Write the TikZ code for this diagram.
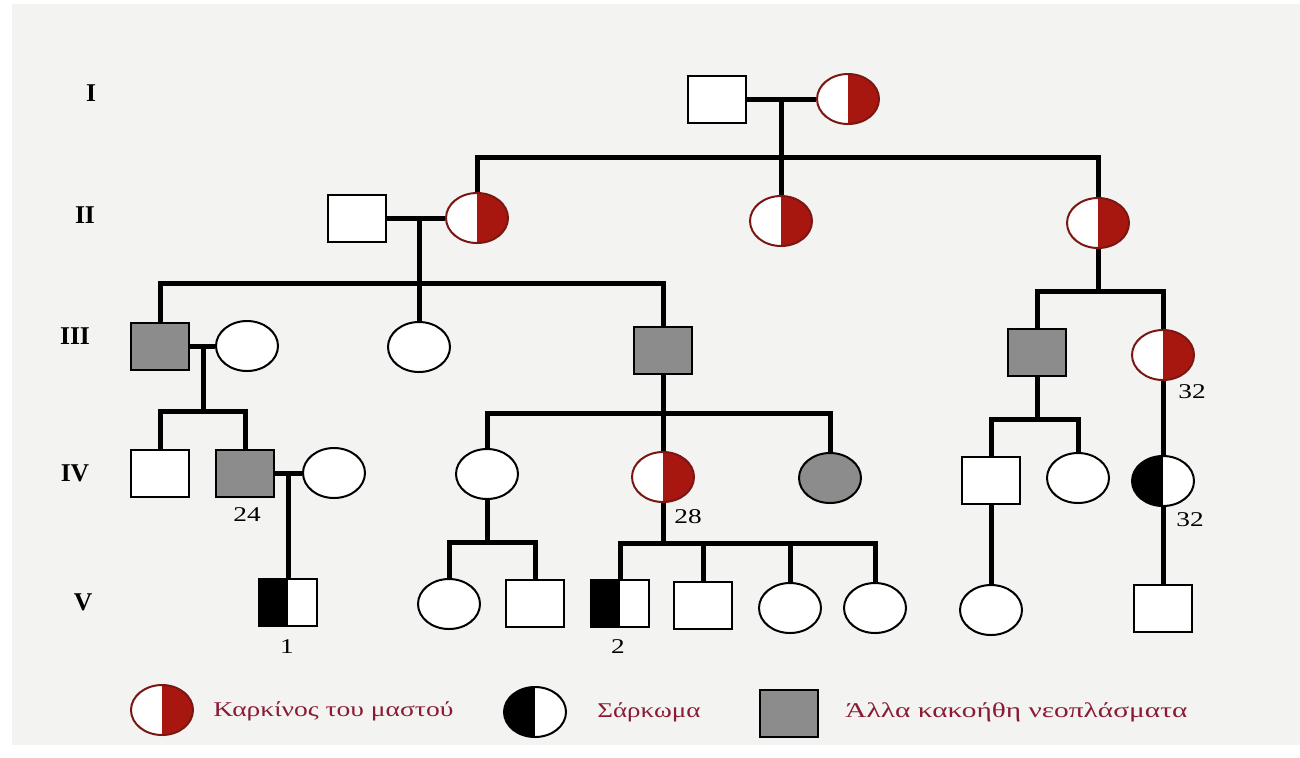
\documentclass[tikz,border=0pt]{standalone}
\usepackage{fontspec}
\setmainfont{Liberation Serif}
\usepackage{graphicx}
\usetikzlibrary{shapes.geometric}
\definecolor{bcred}{HTML}{A8170F}
\definecolor{bcline}{HTML}{7A1712}
\definecolor{grayfill}{HTML}{8C8C8C}
\definecolor{legtext}{HTML}{8A1B33}
\definecolor{paper}{HTML}{F3F3F1}
\begin{document}
\begin{tikzpicture}[x=0.5pt,y=-0.5pt,
  sq/.style={rectangle, draw=black, line width=1pt, fill=white, minimum width=29pt, minimum height=23.5pt, inner sep=0pt},
  ci/.style={ellipse, draw=black, line width=1pt, fill=white, minimum width=31pt, minimum height=25pt, inner sep=0pt},
  bc/.style={draw=bcline, path picture={\fill[bcred] (path picture bounding box.north) rectangle (path picture bounding box.south east);}},
  sarc/.style={path picture={\fill[black] (path picture bounding box.south west) rectangle (path picture bounding box.north);}},
  oth/.style={fill=grayfill},
  link/.style={line width=2.5pt},
  gen/.style={font=\fontsize{12.8}{14}\selectfont\bfseries, inner sep=0pt},
  num/.style={font=\fontsize{10.5}{12}\selectfont, inner sep=0pt},
  leg/.style={font=\fontsize{10.5}{12}\selectfont, text=legtext, inner sep=0pt, anchor=west}
]
\useasboundingbox (0,0) rectangle (1300,757);
\fill[white] (0,0) rectangle (1300,757);
\fill[paper] (12,4) rectangle (1300,745);

% generation labels
\node[gen] (gI) at (91,93) {I};
\node[gen] (gII) at (85,215) {II};
\node[gen] (gIII) at (75,336) {III};
\node[gen] (gIV) at (75,473) {IV};
\node[gen] (gV) at (83,602) {V};

% generation I
\node[sq] (I1) at (717,99) {};
\node[ci,bc] (I2) at (848,99) {};

% generation II
\node[sq] (II1) at (357,218) {};
\node[ci,bc] (II2) at (477,218) {};
\node[ci,bc] (II3) at (781,221) {};
\node[ci,bc] (II4) at (1098,223) {};

% generation III
\node[sq,oth] (III1) at (160,346) {};
\node[ci] (III2) at (247,346) {};
\node[ci] (III3) at (419,347) {};
\node[sq,oth] (III4) at (663,350) {};
\node[sq,oth] (III5) at (1037,352) {};
\node[ci,bc] (III6) at (1163,355) {};

% generation IV
\node[sq] (IV1) at (160,473) {};
\node[sq,oth] (IV2) at (245,473) {};
\node[ci] (IV3) at (334,473) {};
\node[ci] (IV4) at (487,474) {};
\node[ci,bc] (IV5) at (663,477) {};
\node[ci,oth] (IV6) at (830,478) {};
\node[sq] (IV7) at (991,480) {};
\node[ci] (IV8) at (1078,478) {};
\node[ci,sarc] (IV9) at (1163,481) {};

% generation V
\node[sq,sarc] (V1) at (288,602) {};
\node[ci] (V2) at (449,604) {};
\node[sq] (V3) at (535,603) {};
\node[sq,sarc] (V4) at (620,603) {};
\node[sq] (V5) at (703,605) {};
\node[ci] (V6) at (790,608) {};
\node[ci] (V7) at (875,608) {};
\node[ci] (V8) at (991,610) {};
\node[sq] (V9) at (1163,608) {};

% ages
\node[num] (a24) at (247,515) {\scalebox{1.3}[1]{24}};
\node[num] (a28) at (688,517) {\scalebox{1.3}[1]{28}};
\node[num] (a32a) at (1192,392) {\scalebox{1.3}[1]{32}};
\node[num] (a32b) at (1190,520) {\scalebox{1.3}[1]{32}};
\node[num] (n1) at (287,647) {\scalebox{1.3}[1]{1}};
\node[num] (n2) at (618,647) {\scalebox{1.3}[1]{2}};

% connectors
\coordinate (mI) at (781,99);
\coordinate (sI) at (781,157);
\draw[link] (I1.east) -- (I2.west);
\draw[link] (mI) -- (sI);
\draw[link] (II2.north) |- (sI) -| (II4.north);
\draw[link] (sI) -- (II3.north);

\coordinate (mII) at (419,218);
\coordinate (sII) at (419,283);
\draw[link] (II1.east) -- (II2.west);
\draw[link] (mII) -- (sII);
\draw[link] (III1.north) |- (sII) -| (III4.north);
\draw[link] (sII) -- (III3.north);

\coordinate (sIIr) at (1098,291);
\draw[link] (II4.south) -- (sIIr);
\draw[link] (III5.north) |- (sIIr) -| (III6.north);

\coordinate (mIII) at (203,346);
\coordinate (sIII) at (203,411);
\draw[link] (III1.east) -- (III2.west);
\draw[link] (mIII) -- (sIII);
\draw[link] (IV1.north) |- (sIII) -| (IV2.north);

\coordinate (mIV) at (288,473);
\draw[link] (IV2.east) -- (IV3.west);
\draw[link] (mIV) -- (V1.north);

\coordinate (sIIIm) at (663,413);
\draw[link] (III4.south) -- (sIIIm);
\draw[link] (IV4.north) |- (sIIIm) -| (IV6.north);
\draw[link] (sIIIm) -- (IV5.north);

\coordinate (sIVa) at (487,542);
\draw[link] (IV4.south) -- (sIVa);
\draw[link] (V2.north) |- (sIVa) -| (V3.north);

\coordinate (sIVb) at (663,543);
\draw[link] (IV5.south) -- (sIVb);
\draw[link] (V4.north) |- (sIVb) -| (V7.north);
\draw[link] (V5.north) -- (V5.north |- sIVb);
\draw[link] (V6.north) -- (V6.north |- sIVb);

\coordinate (sIIIr) at (1037,419);
\draw[link] (III5.south) -- (sIIIr);
\draw[link] (IV7.north) |- (sIIIr) -| (IV8.north);
\draw[link] (III6.south) -- (IV9.north);
\draw[link] (IV7.south) -- (V8.north);
\draw[link] (IV9.south) -- (V9.north);

% legend
\node[ci,bc] (L1) at (162,710) {};
\node[leg] (T1) at (213,711) {\resizebox{120pt}{\height}{Καρκίνος του μαστού}};
\node[ci,sarc] (L2) at (535,712) {};
\node[leg] (T2) at (597,712) {\resizebox{51.5pt}{\height}{Σάρκωμα}};
\node[sq,oth] (L3) at (789,713) {};
\node[leg] (T3) at (845,712) {\resizebox{171pt}{\height}{Άλλα κακοήθη νεοπλάσματα}};
\end{tikzpicture}
\end{document}
